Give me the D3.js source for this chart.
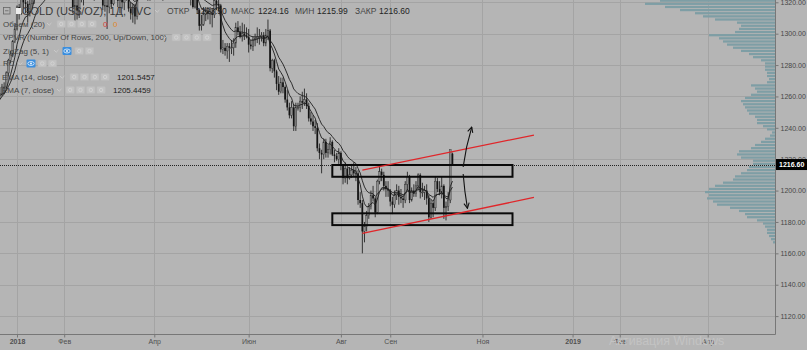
<!DOCTYPE html>
<html>
<head>
<meta charset="utf-8">
<script src="https://cdn.jsdelivr.net/npm/d3@7"></script>
<style>
  body { margin: 0; background: #b5b5b5; }
  svg { display: block; font-family: "Liberation Sans", Arial, sans-serif; }
</style>
</head>
<body>
<svg id="chart" width="807" height="350"></svg>
<script>
// daily bars Dec 2017 .. Oct 12 2018 (one per trading day)
const opens = [
  1275,1280,1275,1265,1263,1252,1248,1246,1242,1256,1254,1256,1262,1262,1266,1266,1275,1283,1287,1295,
  1303,1317,1313,1322,1320,1319,1313,1319,1322,1338,1340,1337,1327,1330,1332,1332,1340,1358,1348,1352,1340,1340,
  1345,1348,1333,1339,1325,1317,1318,1315,1322,1329,1350,1353,1347,1346,1325,1332,1328,1330,1333,1318,
  1318,1317,1322,1319,1335,1326,1321,1323,1320,1326,1325,1316,1313,1317,1311,1332,1328,1347,1354,1341,1324,1325,
  1325,1342,1333,1333,1326,1332,1336,1339,1352,1340,1345,1348,1346,1350,1344,1336,1324,1333,1322,1317,1322,
  1315,1305,1306,1312,1314,1313,1313,1312,1321,1319,1318,1290,1291,1289,1292,1291,1291,1294,1304,1301,1298,1300,1299,
  1298,1293,1292,1296,1297,1298,1298,1299,1294,1299,1302,1278,1283,1276,1268,1263,1269,1266,1258,1253,1248,
  1253,1241,1253,1253,1257,1256,1258,1254,1246,1244,1241,1240,1227,1224,1223,1231,1224,1226,1231,1223,1222,1220,
  1224,1216,1208,1214,1208,1210,1213,1211,1211,1194,1192,1174,1177,1184,1190,1197,1195,1186,1206,1212,1210,1203,1201,
  1200,1193,1191,1197,1200,1196,1195,1194,1204,1209,1194,1200,1198,1203,1210,1199,1199,1200,1195,1183,
  1192,1189,1206,1201,1199,1203,1189,1190,1194,1223.5
];
const highs = [
  1282,1280,1277,1268,1264,1254,1250,1248,1258,1259,1258,1264,1266,1268,1269,1276,1284,1289,1296,1306,
  1318,1319,1326,1324,1322,1321,1327,1325,1339,1345,1344,1345,1336,1337,1337,1344,1362,1366,1356,1353,1346,1348,
  1350,1350,1345,1341,1333,1323,1324,1326,1333,1351,1362,1361,1351,1348,1335,1335,1335,1341,1335,1322,
  1323,1325,1325,1337,1338,1328,1327,1325,1330,1329,1327,1320,1319,1319,1333,1336,1352,1356,1356,1343,1327,1327,
  1346,1345,1349,1334,1337,1339,1342,1365,1355,1348,1351,1351,1355,1353,1346,1338,1336,1334,1326,1324,1324,
  1316,1312,1317,1317,1317,1317,1316,1323,1326,1322,1319,1296,1294,1294,1294,1296,1297,1307,1308,1305,1307,1306,1304,
  1303,1296,1298,1300,1304,1303,1301,1301,1303,1309,1303,1284,1284,1277,1273,1272,1272,1267,1264,1256,1257,
  1255,1256,1256,1260,1263,1265,1262,1256,1250,1248,1245,1243,1230,1226,1233,1233,1229,1234,1232,1226,1224,1227,
  1225,1217,1218,1215,1215,1217,1218,1215,1213,1199,1194,1180,1187,1192,1200,1203,1196,1207,1216,1214,1212,1206,1206,
  1201,1196,1200,1204,1203,1201,1197,1206,1212,1210,1202,1204,1206,1211,1211,1205,1203,1204,1197,1194,
  1193,1209,1208,1206,1209,1204,1193,1199,1226,1224.16
];
const lows = [
  1270,1271,1262,1261,1245,1243,1244,1236,1240,1250,1251,1255,1258,1260,1262,1265,1273,1281,1285,1294,
  1302,1309,1312,1316,1313,1307,1311,1316,1319,1335,1332,1327,1324,1328,1329,1330,1339,1341,1344,1336,1334,1336,
  1338,1331,1329,1322,1313,1308,1309,1310,1320,1318,1347,1345,1340,1323,1321,1326,1325,1328,1315,1314,
  1303,1313,1316,1318,1324,1317,1313,1316,1315,1321,1314,1309,1307,1306,1309,1326,1326,1342,1339,1321,1321,1323,
  1323,1330,1330,1322,1321,1327,1333,1338,1337,1336,1342,1337,1343,1341,1332,1322,1322,1318,1316,1316,1313,
  1302,1302,1305,1308,1309,1306,1304,1310,1315,1314,1288,1287,1286,1284,1282,1287,1286,1291,1299,1297,1295,1296,1297,
  1288,1290,1289,1292,1294,1293,1295,1292,1292,1296,1276,1275,1272,1264,1261,1262,1262,1256,1251,1246,1246,
  1238,1238,1251,1250,1252,1254,1252,1244,1242,1238,1236,1225,1220,1211,1220,1221,1221,1223,1222,1218,1219,1217,
  1213,1204,1205,1204,1207,1208,1209,1206,1191,1189,1160,1167,1174,1182,1188,1193,1183,1185,1204,1206,1200,1196,1196,
  1190,1185,1189,1194,1191,1192,1189,1192,1200,1192,1193,1196,1196,1200,1195,1196,1194,1191,1180,1182,
  1183,1187,1199,1197,1195,1182,1181,1187,1192,1215.99
];
const closes = [
  1280,1275,1265,1263,1252,1248,1246,1242,1256,1254,1256,1262,1262,1266,1266,1275,1283,1287,1295,1303,
  1317,1313,1322,1320,1319,1313,1319,1322,1338,1340,1337,1327,1330,1332,1332,1340,1358,1348,1352,1340,1340,1345,
  1348,1333,1339,1325,1317,1318,1315,1322,1329,1350,1353,1347,1346,1325,1332,1328,1330,1333,1318,1318,
  1317,1322,1319,1335,1326,1321,1323,1320,1326,1325,1316,1313,1317,1311,1332,1328,1347,1354,1341,1324,1325,1325,
  1342,1333,1333,1326,1332,1336,1339,1352,1340,1345,1348,1346,1350,1344,1336,1324,1333,1322,1317,1322,1315,
  1305,1306,1312,1314,1313,1313,1312,1321,1319,1318,1290,1291,1289,1292,1291,1291,1294,1304,1301,1298,1300,1299,1298,
  1293,1292,1296,1297,1298,1298,1299,1294,1299,1302,1278,1283,1276,1268,1263,1269,1266,1258,1253,1248,1253,
  1241,1253,1253,1257,1256,1258,1254,1246,1244,1241,1240,1227,1224,1223,1231,1224,1226,1231,1223,1222,1220,1224,
  1216,1208,1214,1208,1210,1213,1211,1211,1194,1192,1174,1177,1184,1190,1197,1195,1186,1206,1212,1210,1203,1201,1200,
  1193,1191,1197,1200,1196,1195,1194,1204,1209,1194,1200,1198,1203,1210,1199,1199,1200,1195,1183,1192,
  1189,1206,1201,1199,1203,1189,1190,1194,1226,1216.6
];

// VPVR, 2$ rows from 1166 upward (relative volume)
const vpStart = 1166, vpStep = 2;
const vpVolume = [
  2,4,6,8,8,10,12,18,28,30,
  36,45,58,62,68,66,70,66,60,52,
  42,40,34,28,26,22,22,34,38,36,
  24,20,14,10,5,3,8,12,18,18,
  20,26,28,30,32,34,30,24,18,20,
  24,8,6,8,8,10,10,10,14,22,
  26,34,42,48,52,56,66,40,36,34,
  38,60,72,80,95,110,130,115
];

// time axis labels
const tickDates = ["2018-01-02","2018-02-01","2018-04-02","2018-06-01","2018-08-01","2018-09-03","2018-11-01","2019-01-02","2019-02-01","2019-04-01"];
const tickLabels = ["2018","Фев","Апр","Июн","Авг","Сен","Ноя","2019","Фев","Апр"];
const priceTicks = d3.range(1120, 1321, 20);

// drawings on the chart
const boxFrom = ["2018-07-26","2018-07-26"], boxTo = ["2018-11-21","2018-11-21"];
const boxTop = [1216.3, 1185.5], boxBottom = [1208.8, 1178.0];
const chanFrom = "2018-08-15", chanTo = "2018-12-05";
const chanStart = [1213.0, 1172.7], chanEnd = [1235.4, 1195.6];
const arrowFrom = ["2018-10-19","2018-10-19"], arrowTo = ["2018-10-25","2018-10-23"];
const arrowStart = [1215.0, 1210.6], arrowEnd = [1240.5, 1188.7];

const lastPrice = 1216.60;

// ---------------------------------------------------------------
const holidays = ["2017-12-25","2018-01-01","2018-12-25","2019-01-01"];
const fmt = d3.timeFormat("%Y-%m-%d");
const days = d3.timeDays(new Date(2017, 11, 1), new Date(2019, 4, 1))
  .filter(d => d.getDay() % 6 !== 0 && !holidays.includes(fmt(d)));
const dayIndex = new Map(days.map((d, i) => [fmt(d), i]));

const plotR = 775, plotB = 334;

const x = d3.scaleLinear()
  .domain([dayIndex.get("2018-01-02"), dayIndex.get("2019-04-01")])
  .range([17, 707.7]);
const y = d3.scaleLinear().domain([1120, 1320]).range([316.1, 2.3]);
const xd = s => x(dayIndex.get(s));

const svg = d3.select("#chart");
const defs = svg.append("defs");
defs.append("clipPath").attr("id", "plot")
  .append("rect").attr("width", plotR).attr("height", plotB);
defs.append("marker")
  .attr("id", "head").attr("viewBox", "0 0 10 10")
  .attr("refX", 9).attr("refY", 5)
  .attr("markerWidth", 6).attr("markerHeight", 6)
  .attr("orient", "auto")
  .append("path").attr("d", "M1,1 L9,5 L1,9")
  .attr("fill", "none").attr("stroke", "#111").attr("stroke-width", 1.6);

svg.append("rect").attr("width", 807).attr("height", 350).attr("fill", "#b5b5b5");

// grid
const grid = svg.append("g").attr("stroke", "#a4a4a4").attr("stroke-width", 1);
grid.selectAll(".h").data(priceTicks).enter().append("line")
  .attr("x1", 0).attr("x2", plotR)
  .attr("y1", d => Math.round(y(d)) + 0.5).attr("y2", d => Math.round(y(d)) + 0.5);
grid.selectAll(".v").data(tickDates).enter().append("line")
  .attr("y1", 0).attr("y2", plotB)
  .attr("x1", d => Math.round(xd(d)) + 0.5).attr("x2", d => Math.round(xd(d)) + 0.5);

const plot = svg.append("g").attr("clip-path", "url(#plot)");

// volume profile
const vpW = d3.scaleLinear().domain([0, 100]).range([0, 100]);
plot.append("g").selectAll("rect").data(vpVolume).enter().append("rect")
  .attr("x", d => plotR - vpW(d))
  .attr("width", d => vpW(d))
  .attr("y", (d, i) => y(vpStart + (i + 1) * vpStep) + 0.4)
  .attr("height", (y(vpStart) - y(vpStart + vpStep)) - 0.9)
  .attr("fill", "#7e9ea5");

// candles
const bars = closes.map((c, i) => ({ i, o: opens[i], h: highs[i], l: lows[i], c }));
const cg = plot.append("g");
cg.selectAll("line").data(bars).enter().append("line")
  .attr("x1", d => x(d.i)).attr("x2", d => x(d.i))
  .attr("y1", d => y(d.h)).attr("y2", d => y(d.l))
  .attr("stroke", "#262626").attr("stroke-width", 0.9);
cg.selectAll("rect").data(bars).enter().append("rect")
  .attr("x", d => x(d.i) - 0.85).attr("width", 1.7)
  .attr("y", d => y(Math.max(d.o, d.c)))
  .attr("height", d => Math.max(0.8, Math.abs(y(d.o) - y(d.c))))
  .attr("fill", d => d.c >= d.o ? "#8c8c8c" : "#141414")
  .attr("stroke", d => d.c >= d.o ? "#2a2a2a" : "none")
  .attr("stroke-width", 0.4);

// EMAs
function ema(values, n) {
  const k = 2 / (n + 1);
  let prev;
  return values.map((v, i) => (prev = i ? v * k + prev * (1 - k) : v));
}
const line = d3.line().x((d, i) => x(i)).y(d => y(d));
[ema(closes, 14), ema(closes, 7)].forEach(s => {
  plot.append("path").attr("d", line(s))
    .attr("fill", "none").attr("stroke", "#1e1e1e").attr("stroke-width", 0.9);
});

// last price line
plot.append("line")
  .attr("x1", 0).attr("x2", plotR)
  .attr("y1", Math.round(y(lastPrice)) + 0.5).attr("y2", Math.round(y(lastPrice)) + 0.5)
  .attr("stroke", "#222").attr("stroke-dasharray", "1,1");

// drawings
boxFrom.forEach((f, i) => {
  plot.append("rect")
    .attr("x", xd(f)).attr("y", y(boxTop[i]))
    .attr("width", xd(boxTo[i]) - xd(f))
    .attr("height", y(boxBottom[i]) - y(boxTop[i]))
    .attr("fill", "none").attr("stroke", "#0a0a0a").attr("stroke-width", 2);
});
chanStart.forEach((p, i) => {
  plot.append("line")
    .attr("x1", xd(chanFrom)).attr("y1", y(p))
    .attr("x2", xd(chanTo)).attr("y2", y(chanEnd[i]))
    .attr("stroke", "#e0262a").attr("stroke-width", 1.3);
});
arrowFrom.forEach((f, i) => {
  const x0 = xd(f), y0 = y(arrowStart[i]), x1 = xd(arrowTo[i]), y1 = y(arrowEnd[i]);
  plot.append("path")
    .attr("d", `M${x0},${y0} Q${x0 + (x1 - x0) * 0.3},${(y0 + y1) / 2} ${x1},${y1}`)
    .attr("fill", "none").attr("stroke", "#111").attr("stroke-width", 1.1)
    .attr("marker-end", "url(#head)");
});

// axes
const axR = svg.append("g").attr("transform", `translate(${plotR + 0.5},0)`)
  .call(d3.axisRight(y).tickValues(priceTicks).tickFormat(d3.format(".2f")).tickSize(3).tickPadding(2));
axR.select(".domain").attr("d", `M0,0V${plotB + 0.5}`).attr("stroke", "#777");
axR.selectAll("line").attr("stroke", "#777");
axR.selectAll("text").attr("font-size", 7).attr("fill", "#474747").attr("font-family", null);

const axB = svg.append("g").attr("transform", `translate(0,${plotB + 0.5})`)
  .call(d3.axisBottom(x).tickValues(tickDates.map(d => dayIndex.get(d)))
    .tickFormat((d, i) => tickLabels[i]).tickSize(3).tickPadding(2));
axB.select(".domain").attr("d", `M0,0H${plotR + 0.5}`).attr("stroke", "#777");
axB.selectAll("line").attr("stroke", "#777");
axB.selectAll("text").attr("font-size", 7).attr("fill", "#505050").attr("font-family", null)
  .attr("font-weight", (d, i) => /^\d/.test(tickLabels[i]) ? "bold" : null);

// last price tag
svg.append("rect").attr("x", plotR + 1).attr("y", y(lastPrice) - 5.5)
  .attr("width", 31).attr("height", 11).attr("fill", "#000");
svg.append("text").attr("x", plotR + 4).attr("y", y(lastPrice) + 2.6)
  .attr("font-size", 7).attr("font-weight", "bold").attr("fill", "#fff")
  .text(d3.format(".2f")(lastPrice));

// legend
const lg = svg.append("g");
function btns(x0, yc, n) {
  for (let k = 0; k < n; k++) {
    lg.append("rect").attr("x", x0 + k * 10.3).attr("y", yc - 3.6)
      .attr("width", 8.4).attr("height", 7.2).attr("rx", 1)
      .attr("fill", "#c2c2c2").attr("stroke", "#bababa").attr("stroke-width", 0.5);
    lg.append("circle").attr("cx", x0 + k * 10.3 + 4.2).attr("cy", yc)
      .attr("r", 1.7).attr("fill", "none").attr("stroke", "#d8d8d8").attr("stroke-width", 0.7);
  }
}
function eye(x0, yc) {
  lg.append("rect").attr("x", x0).attr("y", yc - 4).attr("width", 9).attr("height", 8)
    .attr("rx", 1).attr("fill", "#3a8ede");
  lg.append("ellipse").attr("cx", x0 + 4.5).attr("cy", yc).attr("rx", 3.2).attr("ry", 2)
    .attr("fill", "none").attr("stroke", "#fff").attr("stroke-width", 0.7);
  lg.append("circle").attr("cx", x0 + 4.5).attr("cy", yc).attr("r", 0.9).attr("fill", "#fff");
}
function label(txt, x0, yc, size, color, weight) {
  lg.append("text").attr("x", x0).attr("y", yc + size * 0.36)
    .attr("font-size", size).attr("fill", color).attr("font-weight", weight || null).text(txt);
}
function caret(x0, yc) {
  lg.append("path").attr("d", `M${x0},${yc - 1} l2.2,2.2 l2.2,-2.2`)
    .attr("fill", "none").attr("stroke", "#cfcfcf").attr("stroke-width", 0.8);
}

// row 1
lg.append("rect").attr("x", 3.5).attr("y", 7.5).attr("width", 6.5).attr("height", 6.5)
  .attr("fill", "none").attr("stroke", "#666").attr("stroke-width", 0.8);
lg.append("line").attr("x1", 5).attr("x2", 8.5).attr("y1", 10.75).attr("y2", 10.75)
  .attr("stroke", "#666").attr("stroke-width", 0.8);
lg.append("rect").attr("x", 16).attr("y", 8).attr("width", 5).attr("height", 6).attr("fill", "#ececec");
label("GOLD (US$/OZ), 1Д, TVC", 22, 11, 11, "#3a3a3a");
caret(155, 11);
label("ОТКР", 167, 11, 8.5, "#474747"); label("1223.50", 196, 11, 8.5, "#242424");
label("МАКС", 231, 11, 8.5, "#474747"); label("1224.16", 258, 11, 8.5, "#242424");
label("МИН", 295, 11, 8.5, "#474747");  label("1215.99", 317, 11, 8.5, "#242424");
label("ЗАКР", 355, 11, 8.5, "#474747"); label("1216.60", 379, 11, 8.5, "#242424");

// indicator rows
const ink = "#444";
label("Объем (20)", 3, 24, 8, ink); caret(47, 24); btns(57, 24, 4);
label("0", 103, 24, 8, "#d9403a"); label("0", 113, 24, 8, "#e0862e");
label("VPVR (Number Of Rows, 200, Up/Down, 100)", 3, 37.5, 8, ink); caret(162, 37.5); btns(172, 37.5, 4);
label("ZigZag (5, 1)", 3, 51, 8, ink); caret(54, 51); eye(62.5, 51); btns(75, 51, 2);
label("RC", 3, 63.5, 8, ink); caret(18, 63.5); eye(26.5, 63.5); btns(38, 63.5, 2);
label("EMA (14, close)", 2, 77, 8, ink); caret(60, 77); btns(70, 77, 4);
label("1201.5457", 117, 77, 8, "#222");
label("EMA (7, close)", 2, 90, 8, ink); caret(57, 90); btns(66, 90, 4);
label("1205.4459", 113, 90, 8, "#222");

// watermark
svg.append("text").attr("x", 609).attr("y", 345).attr("font-size", 12.5)
  .attr("fill", "#c3c3c3").text("Активация Windows");
</script>
</body>
</html>
